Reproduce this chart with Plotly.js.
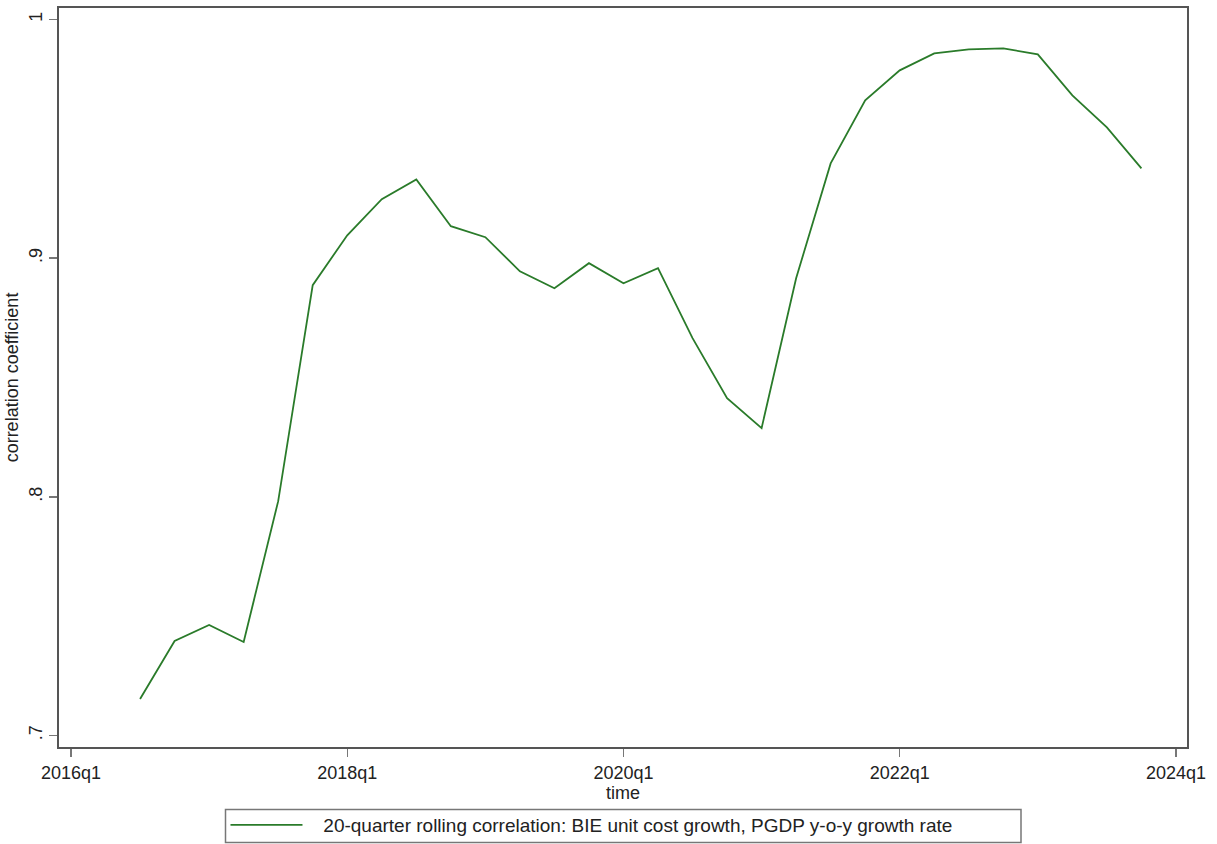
<!DOCTYPE html>
<html>
<head>
<meta charset="utf-8">
<script src="https://cdn.plot.ly/plotly-3.0.1.min.js"></script>
<style>html,body{margin:0;padding:0;background:#fff;}#chart{width:1217px;height:844px;}</style>
</head>
<body>
<div id="chart"></div>
<script>
// Quarters (2016q3 .. 2023q4) as year + (q-1)/4
const quarters = ["2016q3","2016q4","2017q1","2017q2","2017q3","2017q4","2018q1","2018q2","2018q3","2018q4",
  "2019q1","2019q2","2019q3","2019q4","2020q1","2020q2","2020q3","2020q4","2021q1","2021q2",
  "2021q3","2021q4","2022q1","2022q2","2022q3","2022q4","2023q1","2023q2","2023q3","2023q4"];
const correlation = [0.7153,0.7396,0.7463,0.7392,0.7982,0.8887,0.9096,0.9247,0.9330,0.9134,
  0.9088,0.8945,0.8874,0.8979,0.8895,0.8958,0.8665,0.8413,0.8288,0.8916,
  0.9397,0.9661,0.9787,0.9858,0.9875,0.9879,0.9854,0.9682,0.9548,0.9376];
const xTickVals = [2016,2018,2020,2022,2024];
const xTickText = ["2016q1","2018q1","2020q1","2022q1","2024q1"];
const yTickVals = [0.7,0.8,0.9,1.0];
const yTickText = [".7",".8",".9","1"];
const seriesName = "20-quarter rolling correlation: BIE unit cost growth, PGDP y-o-y growth rate";

function qToNum(s){ const y=parseInt(s.slice(0,4)); const q=parseInt(s.slice(5)); return y+(q-1)/4; }
const xs = quarters.map(qToNum);

const font = {family:"Liberation Sans, Arial, sans-serif", size:18, color:"#222"};

const trace = {
  x: xs, y: correlation, type:"scatter", mode:"lines",
  name: "\u00a0\u00a0\u00a0" + seriesName,
  line:{color:"#2a7b2a", width:1.8},
  hoverinfo:"x+y"
};

// legend frame in pixel terms of the page, converted to paper coordinates
const M = {l:59, r:30, t:8, b:97};
const plotW = 1217 - M.l - M.r, plotH = 844 - M.t - M.b;
const px2x = p => (p - M.l) / plotW;
const py2y = p => (844 - M.b - p) / plotH;

const layout = {
  width:1217, height:844,
  paper_bgcolor:"#fff", plot_bgcolor:"#fff",
  margin:{l:M.l, r:M.r, t:M.t, b:M.b, autoexpand:false},
  font: font,
  showlegend:true,
  legend:{
    xref:"container", yref:"container",
    x:0.5119, xanchor:"center", y:0.0450, yanchor:"top",
    orientation:"h",
    bgcolor:"rgba(0,0,0,0)",
    borderwidth:0,
    font:{family:"Liberation Sans, Arial, sans-serif", size:19, color:"#222"},
    itemwidth:72,
    entrywidth:708
  },
  shapes:[{
    type:"rect", xref:"paper", yref:"paper", layer:"below",
    x0:px2x(225.5), x1:px2x(1021), y0:py2y(809.5), y1:py2y(842.5),
    line:{color:"#777", width:1.5}, fillcolor:"rgba(0,0,0,0)"
  }],
  xaxis:{
    range:[2015.913, 2024.08],
    tickmode:"array", tickvals:xTickVals, ticktext:xTickText,
    showgrid:false, zeroline:false,
    showline:true, mirror:true, linecolor:"#555", linewidth:2,
    ticks:"outside", ticklen:8, tickcolor:"#777", tickwidth:1.5,
    tickfont:{size:18, color:"#222"},
    title:{text:"time", font:{size:18, color:"#222"}, standoff:0}
  },
  yaxis:{
    range:[0.69518, 1.00482],
    tickmode:"array", tickvals:yTickVals, ticktext:yTickText,
    tickangle:-90,
    showgrid:false, zeroline:false,
    showline:true, mirror:true, linecolor:"#555", linewidth:2,
    ticks:"outside", ticklen:8, tickcolor:"#777", tickwidth:1.5,
    tickfont:{size:18, color:"#222"},
    title:{text:"correlation coefficient", font:{size:18, color:"#222"}, standoff:2}
  }
};

Plotly.newPlot("chart", [trace], layout, {displayModeBar:false, staticPlot:true});
</script>
</body>
</html>
